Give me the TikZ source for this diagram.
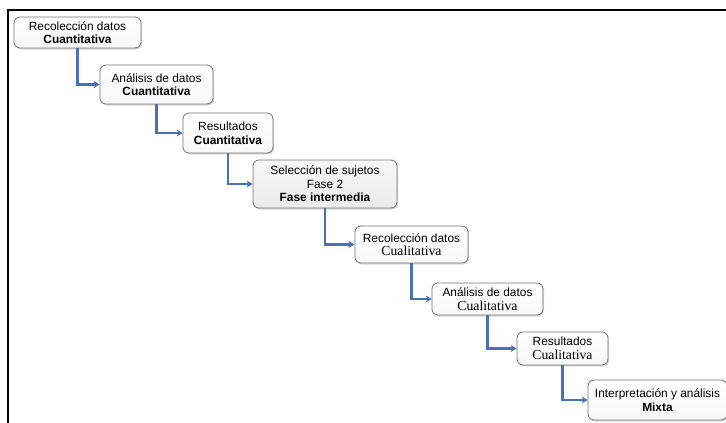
\documentclass[tikz,border=0pt]{standalone}
\usepackage{fontspec}
\setmainfont{Liberation Serif}
\setsansfont{Liberation Sans}
\usetikzlibrary{arrows.meta,shadows}
\definecolor{linkblue}{RGB}{74,112,182}
\definecolor{boxline}{RGB}{115,115,115}
\newcommand{\cuali}{{\rmfamily\mdseries\fontsize{13.7}{15}\selectfont Cualitativa}}

\begin{document}
\begin{tikzpicture}[x=1pt,y=-1pt,
            box/.style={draw=boxline,line width=0.8pt,rounded corners=6pt,top color=white,bottom color=gray!6,
                align=center,inner sep=1pt,font=\sffamily\fontsize{11.9}{13.5}\selectfont,
                drop shadow={opacity=0.3,shadow xshift=1.2pt,shadow yshift=-1.5pt}},
            link/.style={draw=linkblue,line width=2.4pt,-{Stealth[length=6pt,width=7pt]}}]
            \useasboundingbox (0,0) rectangle (726,423);
            \draw[line width=1.2pt] (727,10)--(8,10)--(8,424);
            \node[box,minimum width=127pt,minimum height=31pt] (rcuan) at (77.5,32.5) {Recolección datos\\\textbf{Cuantitativa}};
            \node[box,minimum width=113pt,minimum height=39pt] (acuan) at (156.5,84.5) {Análisis de datos\\\textbf{Cuantitativa}};
            \node[box,minimum width=90pt,minimum height=40pt] (rescuan) at (228,133) {Resultados\\\textbf{Cuantitativa}};
            \node[box,minimum width=144pt,minimum height=48pt,top color=gray!6,bottom color=gray!15] (sel) at (325,184) {Selección de sujetos\\Fase 2\\\textbf{Fase intermedia}};
            \node[box,minimum width=113pt,minimum height=37pt] (rcual) at (411.5,244.5) {Recolección datos\\\cuali};
            \node[box,minimum width=111pt,minimum height=32pt] (acual) at (487.5,299) {Análisis de datos\\\cuali};
            \node[box,minimum width=91pt,minimum height=33pt] (rescual) at (562.5,348.5) {Resultados\\\cuali};
            \node[box,minimum width=139pt,minimum height=40pt] (mix) at (657.5,400) {Interpretación y análisis\\\textbf{Mixta}};
            \draw[link] (rcuan.south) |- (acuan.west);
            \draw[link] (acuan.south) |- (rescuan.west);
            \draw[link] (rescuan.south) |- (sel.west);
            \draw[link] (sel.south) |- (rcual.west);
            \draw[link] (rcual.south) |- (acual.west);
            \draw[link] (acual.south) |- (rescual.west);
            \draw[link] (rescual.south) |- (mix.west);
        \end{tikzpicture}
\end{document}
